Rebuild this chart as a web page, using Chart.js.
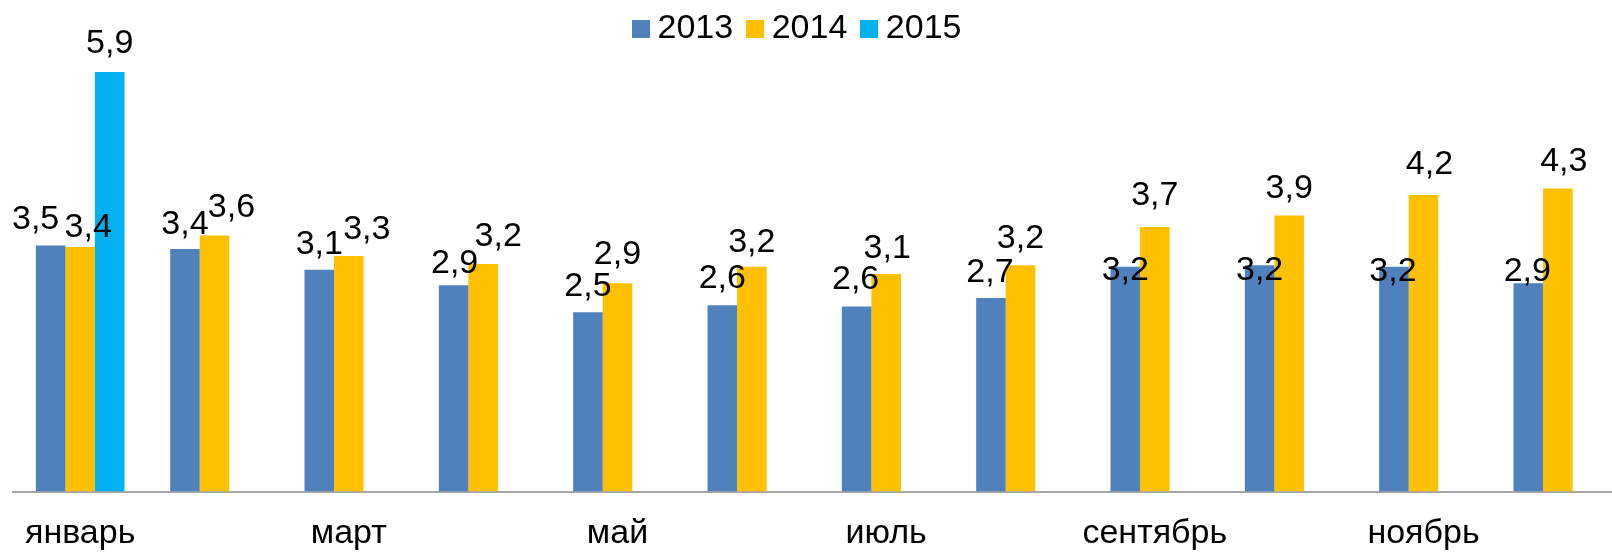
<!DOCTYPE html>
<html>
<head>
<meta charset="utf-8">
<script src="https://cdn.jsdelivr.net/npm/chart.js@4.4.0/dist/chart.umd.min.js"></script>
<style>
  html, body { margin: 0; padding: 0; background: #fff; overflow: hidden; }
  #wrap { width: 1640px; height: 552px; }
</style>
</head>
<body>
<div id="wrap"><canvas id="chart"></canvas></div>
<script>
const months = ['январь', 'февраль', 'март', 'апрель', 'май', 'июнь',
    'июль', 'август', 'сентябрь', 'октябрь', 'ноябрь', 'декабрь'];
// only every other month is labelled on the axis
const tickLabels = ['январь', '', 'март', '', 'май', '', 'июль', '', 'сентябрь', '', 'ноябрь', ''];

const years = ['2013', '2014', '2015'];
const values2013 = [3.46, 3.41, 3.12, 2.9, 2.52, 2.62, 2.6, 2.72, 3.16, 3.18, 3.16, 2.93];
const values2014 = [3.44, 3.6, 3.31, 3.2, 2.93, 3.16, 3.06, 3.18, 3.72, 3.88, 4.17, 4.26];
const values2015 = [5.9, null, null, null, null, null, null, null, null, null, null, null];

const colors = ['#4F81BD', '#FFC000', '#00B0F0'];

// hand-moved value labels in the original, [dx, dy] in px
const labelShift2013 = [[-15, 3], [0, 4], [0, 3], [1, 7], [0, 3], [0, 2], [-1, 1], [-1, 3], [0, 32], [0, 34], [-1, 33], [-1, 17]];
const labelShift2014 = [[8, 9], [17, 0], [18, 2], [15, 1], [0, 0], [0, 4], [1, 3], [0, 2], [0, -3], [0, 1], [6, -2], [6, 1]];
const labelShift2015 = [[0, 0]];
const labelShifts = [labelShift2013, labelShift2014, labelShift2015];

const FONT = '"Liberation Sans", Arial, sans-serif';

// square legend swatch, so the text can sit close to it
function swatch(color) {
    const c = document.createElement('canvas');
    c.width = 18;
    c.height = 18;
    const g = c.getContext('2d');
    g.fillStyle = color;
    g.fillRect(0, 0, 18, 18);
    return c;
}

const barLabels = {
    id: 'barLabels',
    afterDatasetsDraw(chart) {
        const ctx = chart.ctx;
        ctx.save();
        ctx.font = '34px ' + FONT;
        ctx.fillStyle = '#000';
        ctx.textAlign = 'center';
        ctx.textBaseline = 'alphabetic';
        chart.data.datasets.forEach((ds, di) => {
            const meta = chart.getDatasetMeta(di);
            meta.data.forEach((bar, i) => {
                const v = ds.data[i];
                if (v == null) return;
                const shift = labelShifts[di][i] || [0, 0];
                ctx.fillText(v.toFixed(1).replace('.', ','), bar.x + shift[0], bar.y - 19 + shift[1]);
            });
        });
        ctx.restore();
    }
};

// legend sits a bit left of the middle in the original
const legendShift = {
    id: 'legendShift',
    afterLayout(chart) {
        const lg = chart.legend;
        lg.left -= 18;
        lg.right -= 18;
        lg.top += 12;
        lg.bottom += 12;
    }
};

const datasets = [values2013, values2014, values2015].map((data, i) => ({
    label: years[i],
    data: data,
    backgroundColor: colors[i],
    pointStyle: swatch(colors[i]),
    borderWidth: 0,
    categoryPercentage: 0.66,
    barPercentage: 1.0
}));

new Chart(document.getElementById('chart'), {
    type: 'bar',
    data: {
        labels: months,
        datasets: datasets
    },
    options: {
        responsive: true,
        maintainAspectRatio: false,
        animation: false,
        layout: {
            padding: { top: -22, left: 13, right: 15, bottom: -22.9 }
        },
        plugins: {
            legend: {
                position: 'top',
                labels: {
                    usePointStyle: true,
                    pointStyleWidth: 0.01,
                    boxHeight: 18,
                    padding: 21.5,
                    color: '#000',
                    font: { family: FONT, size: 34 }
                }
            },
            tooltip: { enabled: false }
        },
        scales: {
            x: {
                grid: { display: false, drawTicks: false },
                border: { display: true, color: '#a6a6a6', width: 2 },
                ticks: {
                    autoSkip: false,
                    maxRotation: 0,
                    padding: 21.3,
                    color: '#000',
                    font: { family: FONT, size: 34 },
                    callback: (value, index) => tickLabels[index]
                }
            },
            y: {
                display: false,
                min: 0,
                max: 6.3
            }
        }
    },
    plugins: [barLabels, legendShift]
});
</script>
</body>
</html>
